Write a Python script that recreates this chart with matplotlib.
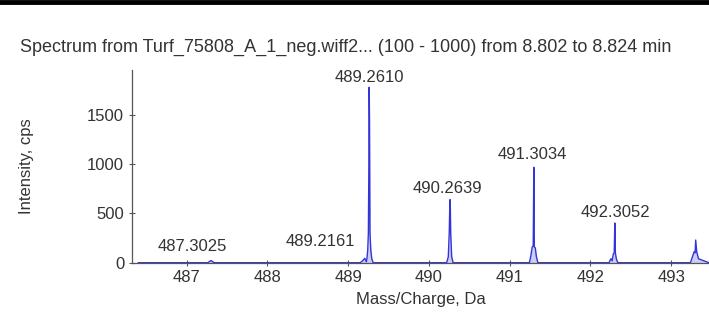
#!/usr/bin/env python3
import matplotlib
matplotlib.use("Agg")
import matplotlib.pyplot as plt
from matplotlib.lines import Line2D

plt.rcParams.update({'font.family': 'Liberation Sans', 'font.size': 12})

TITLE = "Spectrum from Turf_75808_A_1_neg.wiff2... (100 - 1000) from 8.802 to 8.824 min"

# profile trace (m/z, intensity in cps)
mz = [486.40, 487.26, 487.285, 487.30, 487.315, 487.34,
      489.15, 489.185, 489.205, 489.225,
      489.232, 489.242, 489.250, 489.256, 489.260, 489.264, 489.270, 489.280, 489.292, 489.310,
      490.220, 490.240, 490.252, 490.260, 490.264, 490.270, 490.282, 490.300,
      491.245, 491.265, 491.280, 491.292, 491.300, 491.306, 491.318, 491.332, 491.350,
      492.230, 492.255, 492.270, 492.285, 492.296, 492.303, 492.310, 492.322, 492.340,
      493.240, 493.265, 493.285, 493.298, 493.305, 493.318, 493.340, 493.470]
intensity = [0, 0, 14, 22, 14, 0,
             0, 25, 45, 10,
             40, 130, 300, 980, 1780, 1450, 300, 130, 40, 0,
             0, 60, 310, 640, 640, 300, 60, 0,
             0, 80, 160, 170, 968, 160, 150, 60, 0,
             0, 40, 20, 90, 100, 403, 100, 40, 0,
             0, 60, 110, 100, 230, 110, 40, 0]

# peak labels: text, x (m/z), y (cps) of the label centre
label_text = ["487.3025", "489.2161", "489.2610", "490.2639", "491.3034", "492.3052"]
label_x = [487.07, 488.65, 489.26, 490.23, 491.28, 492.31]
label_y = [160, 215, 1880, 755, 1095, 505]

xticks = [487, 488, 489, 490, 491, 492, 493]
yticks = [0, 500, 1000, 1500]

fig = plt.figure(figsize=(7.09, 3.2), dpi=100)
ax = fig.add_axes([0.186, 0.179, 0.814, 0.602])

ax.fill_between(mz, intensity, color='#b4b8f2', alpha=0.7, lw=0)
ax.plot(mz, intensity, color='#3434d8', lw=1.0)

for t, x, y in zip(label_text, label_x, label_y):
    ax.text(x, y, t, ha='center', va='center', color='#333333', fontsize=12)

ax.set_xlim(486.32, 493.47)
ax.set_ylim(0, 1954)
ax.set_xticks(xticks)
ax.set_yticks(yticks)
ax.tick_params(direction='inout', length=4, width=0.8, colors='#555555',
               labelcolor='#333333', labelsize=12)
for side in ['top', 'right']:
    ax.spines[side].set_visible(False)
for side in ['left', 'bottom']:
    ax.spines[side].set_color('#555555')
    ax.spines[side].set_linewidth(0.9)

ax.set_xlabel('Mass/Charge, Da', color='#333333', fontsize=12, labelpad=5)
ax.set_ylabel('Intensity, cps', color='#333333', fontsize=12, labelpad=38)

fig.text(0.487, 0.853, TITLE, ha='center', va='center', color='#333333', fontsize=13)

# black rule along the top edge
fig.add_artist(Line2D([0, 1], [0.995, 0.995], transform=fig.transFigure,
                      color='black', lw=3.5))

plt.savefig('out.png', dpi=100)
